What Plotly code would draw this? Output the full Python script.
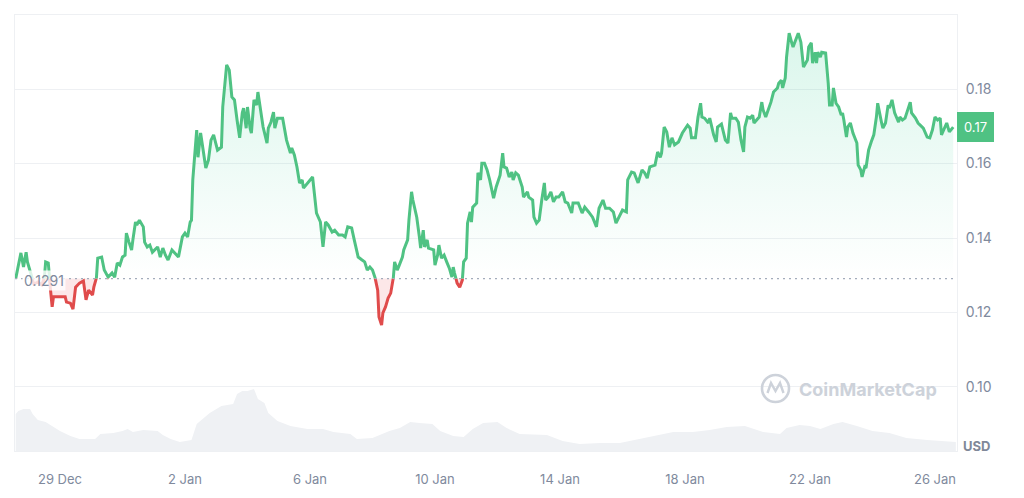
import numpy as np
import pandas as pd
import plotly.graph_objects as go

# ---------------- data ----------------
START = pd.Timestamp("2024-12-27 14:00")

hours = [
    0, 4, 6, 8, 9, 12, 14, 17, 20, 22,
    23, 25, 26, 28, 29, 32, 36, 38, 39, 42,
    44, 46, 49, 52, 54, 56, 59, 60, 62, 63,
    66, 68, 71, 74, 76, 78, 80, 82, 84, 85,
    87, 89, 90, 92, 93, 95, 98, 99, 101, 103,
    105, 109, 111, 113, 115, 117, 120, 122, 125, 128,
    130, 132, 134, 135, 136, 139, 140, 142, 144, 146,
    148, 150, 152, 154, 155, 158, 159, 162, 164, 166,
    168, 170, 172, 174, 175, 177, 178, 180, 181, 183,
    185, 186, 188, 190, 193, 194, 196, 198, 199, 201,
    205, 208, 211, 212, 214, 216, 218, 220, 221, 224,
    228, 231, 234, 236, 238, 240, 243, 245, 248, 251,
    253, 255, 258, 260, 263, 266, 268, 270, 272, 274,
    276, 278, 279, 281, 282, 284, 286, 288, 289, 290,
    291, 293, 294, 297, 298, 301, 302, 304, 305, 307,
    308, 310, 311, 313, 314, 316, 317, 321, 322, 324,
    325, 327, 329, 331, 333, 335, 336, 337, 339, 341,
    343, 344, 346, 347, 349, 350, 351, 354, 355, 357,
    358, 360, 362, 364, 366, 367, 369, 370, 372, 374,
    375, 377, 379, 381, 382, 384, 386, 389, 390, 393,
    394, 397, 398, 400, 402, 404, 406, 407, 409, 411,
    413, 415, 417, 420, 422, 424, 427, 428, 430, 432,
    435, 437, 440, 443, 446, 448, 451, 453, 456, 459,
    461, 463, 466, 469, 470, 473, 475, 478, 481, 483,
    485, 487, 491, 493, 495, 496, 498, 500, 502, 504,
    506, 509, 512, 516, 518, 519, 522, 524, 526, 527,
    529, 532, 533, 536, 538, 539, 542, 545, 547, 549,
    550, 553, 555, 557, 559, 560, 562, 564, 566, 567,
    569, 571, 573, 574, 576, 578, 580, 582, 585, 586,
    588, 589, 591, 592, 594, 596, 597, 599, 601, 603,
    605, 608, 609, 611, 612, 614, 615, 616, 618, 619,
    622, 624, 625, 627, 628, 630, 632, 634, 635, 636,
    638, 639, 641, 643, 646, 647, 649, 650, 652, 653,
    655, 657, 659, 661, 662, 665, 666, 668, 670, 671,
    673, 675, 678, 679, 681, 683, 685, 687, 688, 691,
    693, 695, 697, 700, 702, 704, 706, 708, 710, 711,
    714, 715, 717, 719, 720,
]

prices = [
    .1291, .1360, .1322, .1362, .1336, .1295, .1276, .1282, .1274, .1293,
    .1336, .1333, .1287, .1215, .1242, .1242, .1240, .1242, .1228, .1225,
    .1209, .1268, .1279, .1285, .1234, .1260, .1247, .1268, .1293, .1346,
    .1349, .1314, .1295, .1306, .1295, .1333, .1327, .1349, .1354, .1413,
    .1389, .1368, .1395, .1443, .1435, .1448, .1430, .1389, .1376, .1381,
    .1362, .1376, .1349, .1373, .1354, .1341, .1368, .1360, .1349, .1403,
    .1413, .1403, .1443, .1448, .1556, .1690, .1617, .1682, .1636, .1588,
    .1609, .1663, .1677, .1644, .1636, .1644, .1752, .1865, .1851, .1779,
    .1771, .1717, .1669, .1736, .1749, .1695, .1752, .1695, .1682, .1771,
    .1757, .1792, .1744, .1698, .1655, .1695, .1711, .1738, .1695, .1722,
    .1722, .1663, .1628, .1642, .1623, .1591, .1548, .1556, .1534, .1548,
    .1564, .1467, .1443, .1376, .1443, .1435, .1416, .1421, .1408, .1408,
    .1403, .1430, .1427, .1395, .1349, .1341, .1336, .1314, .1322, .1314,
    .1293, .1260, .1188, .1166, .1199, .1215, .1239, .1252, .1268, .1293,
    .1336, .1314, .1322, .1349, .1368, .1395, .1448, .1524, .1502, .1475,
    .1456, .1403, .1373, .1421, .1376, .1395, .1373, .1368, .1327, .1354,
    .1381, .1346, .1354, .1336, .1319, .1295, .1322, .1306, .1279, .1268,
    .1287, .1336, .1346, .1440, .1470, .1443, .1483, .1494, .1575, .1556,
    .1601, .1601, .1583, .1556, .1521, .1507, .1537, .1550, .1569, .1628,
    .1591, .1588, .1564, .1577, .1556, .1575, .1569, .1537, .1510, .1524,
    .1510, .1502, .1456, .1440, .1448, .1502, .1548, .1502, .1510, .1524,
    .1497, .1510, .1510, .1524, .1497, .1494, .1467, .1494, .1494, .1494,
    .1467, .1483, .1470, .1456, .1430, .1480, .1502, .1480, .1480, .1470,
    .1440, .1456, .1475, .1470, .1556, .1577, .1575, .1548, .1583, .1575,
    .1561, .1591, .1596, .1631, .1617, .1628, .1698, .1685, .1644, .1669,
    .1650, .1658, .1682, .1703, .1695, .1669, .1669, .1725, .1762, .1725,
    .1722, .1709, .1722, .1677, .1658, .1698, .1706, .1663, .1655, .1736,
    .1722, .1722, .1711, .1663, .1631, .1698, .1725, .1722, .1730, .1709,
    .1717, .1725, .1765, .1744, .1725, .1744, .1765, .1792, .1803, .1816,
    .1824, .1803, .1830, .1886, .1950, .1924, .1913, .1932, .1950, .1926,
    .1859, .1878, .1913, .1924, .1870, .1899, .1870, .1899, .1886, .1899,
    .1897, .1816, .1757, .1757, .1803, .1762, .1752, .1730, .1736, .1717,
    .1671, .1698, .1709, .1682, .1655, .1596, .1583, .1564, .1591, .1588,
    .1636, .1658, .1677, .1725, .1762, .1709, .1695, .1709, .1757, .1749,
    .1771, .1736, .1711, .1725, .1717, .1722, .1744, .1765, .1736, .1722,
    .1709, .1703, .1695, .1671, .1669, .1690, .1725, .1717, .1722, .1677,
    .1703, .1709, .1685, .1695, .1698,
]

vol_hours = [
    0, 2, 6, 11, 13, 17, 23, 28, 34, 42,
    49, 61, 65, 75, 82, 86, 90, 98, 109, 113,
    119, 126, 135, 139, 149, 158, 167, 170, 174, 178,
    183, 186, 191, 194, 201, 211, 224, 236, 244, 257,
    262, 274, 287, 295, 303, 310, 320, 326, 336, 344,
    351, 359, 370, 377, 387, 408, 420, 433, 449, 464,
    479, 495, 505, 520, 533, 546, 560, 574, 587, 592,
    602, 610, 618, 628, 635, 646, 658, 671, 684, 700,
    715, 722,
]
volumes = [
    37, 40, 42, 42, 37, 31, 29, 25, 20, 15,
    12, 12, 17, 18, 20, 22, 19, 21, 20, 16,
    12, 9, 11, 27, 38, 45, 47, 57, 60, 60,
    62, 52, 48, 38, 30, 25, 22, 22, 19, 17,
    12, 13, 20, 23, 29, 28, 27, 20, 15, 14,
    22, 28, 29, 23, 17, 16, 10, 7, 8, 8,
    12, 16, 19, 19, 21, 24, 25, 19, 17, 23,
    26, 25, 22, 27, 29, 25, 20, 18, 13, 11,
    10, 9,
]

baseline = 0.1291
tick_dates = ["2024-12-29", "2025-01-02", "2025-01-06", "2025-01-10",
              "2025-01-14", "2025-01-18", "2025-01-22", "2025-01-26"]
tick_labels = ["29 Dec", "2 Jan", "6 Jan", "10 Jan", "14 Jan", "18 Jan", "22 Jan", "26 Jan"]
y_ticks = [0.10, 0.12, 0.14, 0.16, 0.18]
y_tick_labels = ["0.10", "0.12", "0.14", "0.16", "0.18"]

assert len(hours) == len(prices)
assert len(vol_hours) == len(volumes)

# ---------------- styling ----------------
GREEN = "#4FC283"
RED = "#E04B4B"
GRAY = "#808A9D"
GRID = "#EEF0F3"
FONT = "Inter"

W, H = 1024, 498
ML, MR, MT, MB = 15, 67, 15, 47
PW, PH = W - ML - MR, H - MT - MB
YMIN, YMAX = 0.0828, 0.1999
SPLIT = (baseline - YMIN) / (YMAX - YMIN)   # baseline position as domain fraction

t = START + pd.to_timedelta(hours, unit="h")
tv = START + pd.to_timedelta(vol_hours, unit="h")
p = np.array(prices, dtype=float)
n = len(p)

fig = go.Figure()

# volume (secondary axis)
fig.add_trace(go.Scatter(
    x=tv, y=volumes, yaxis="y2", mode="lines",
    line=dict(width=0, color="#EFF1F4"), fill="tozeroy", fillcolor="#EFF1F4",
    hoverinfo="skip", showlegend=False))

# green fill above baseline
fig.add_trace(go.Scatter(x=t, y=[baseline] * n, mode="lines", line=dict(width=0),
                         hoverinfo="skip", showlegend=False))
fig.add_trace(go.Scatter(
    x=t, y=np.maximum(p, baseline), mode="lines", line=dict(width=0),
    fill="tonexty",
    fillgradient=dict(type="vertical", start=baseline, stop=0.20,
                      colorscale=[[0, "rgba(22,199,132,0.0)"], [1, "rgba(22,199,132,0.17)"]]),
    hoverinfo="skip", showlegend=False))

# red fill below baseline
fig.add_trace(go.Scatter(x=t, y=[baseline] * n, mode="lines", line=dict(width=0),
                         hoverinfo="skip", showlegend=False))
fig.add_trace(go.Scatter(
    x=t, y=np.minimum(p, baseline), mode="lines", line=dict(width=0),
    fill="tonexty", fillcolor="rgba(234,57,67,0.12)",
    hoverinfo="skip", showlegend=False))

# price line: red part on a subplot clipped below the baseline,
# green part on a subplot clipped above the baseline
fig.add_trace(go.Scatter(x=t, y=p, yaxis="y3", mode="lines",
                         line=dict(color=RED, width=3), showlegend=False))
fig.add_trace(go.Scatter(x=t, y=p, yaxis="y4", mode="lines",
                         line=dict(color=GREEN, width=3), showlegend=False))


def px2paper(x, y):
    return (x - ML) / PW, (H - MB - y) / PH


# baseline dotted line
shapes = [dict(type="line", xref="paper", x0=0, x1=1, yref="y", y0=baseline, y1=baseline,
               line=dict(color="#A3ACBB", width=1.4, dash="2px,4px"), layer="above")]

# watermark logo
cx0, cy0 = px2paper(762, 402)
cx1, cy1 = px2paper(789, 375)
shapes.append(dict(type="circle", xref="paper", yref="paper", x0=cx0, y0=cy0, x1=cx1, y1=cy1,
                   line=dict(color="#CDD2DA", width=2.6), layer="above"))
pts = [px2paper(*q) for q in [(767.5, 393), (771, 383), (775.5, 391), (780, 383), (783.5, 393)]]
path = "M " + " L ".join(f"{a:.5f},{b:.5f}" for a, b in pts)
shapes.append(dict(type="path", xref="paper", yref="paper", path=path,
                   line=dict(color="#CDD2DA", width=2.4), layer="above"))

wx, wy = px2paper(797, 389)
annotations = [
    dict(x=0, xref="paper", y=baseline, yref="y", text="0.1291", showarrow=False,
         xanchor="left", yanchor="middle", xshift=7, yshift=-2,
         font=dict(family=FONT, size=14, color=GRAY),
         bgcolor="rgba(255,255,255,0.8)", borderpad=1),
    dict(x=1, xref="paper", y=p[-1], yref="y", text=f"{p[-1]:.2f}", showarrow=False,
         xanchor="left", yanchor="middle", xshift=0,
         font=dict(family=FONT, size=13, color="white"),
         bgcolor=GREEN, bordercolor=GREEN, borderwidth=1, borderpad=6),
    dict(x=1, xref="paper", y=px2paper(0, 446)[1], yref="paper", text="<b>USD</b>",
         showarrow=False, xanchor="left", yanchor="middle", xshift=4,
         font=dict(family=FONT, size=13, color="#7F8899")),
    dict(x=wx, xref="paper", y=wy, yref="paper", text="<b>CoinMarketCap</b>",
         showarrow=False, xanchor="left", yanchor="middle",
         font=dict(family=FONT, size=18, color="#CDD2DA")),
]

x0 = START - pd.Timedelta(hours=0.54)
x1 = START + pd.Timedelta(hours=722.9)

fig.update_layout(
    width=W, height=H,
    margin=dict(l=ML, r=MR, t=MT, b=MB, pad=0),
    paper_bgcolor="white", plot_bgcolor="rgba(0,0,0,0)",
    font=dict(family=FONT, size=13, color=GRAY),
    showlegend=False,
    hovermode=False,
    shapes=shapes,
    annotations=annotations,
    xaxis=dict(
        type="date", range=[x0, x1],
        tickvals=tick_dates, ticktext=tick_labels,
        showgrid=False, zeroline=False,
        showline=True, mirror=True, linecolor=GRID, linewidth=1,
        ticks="", ticklabelstandoff=16,
        tickfont=dict(family=FONT, size=13, color=GRAY),
        fixedrange=True,
    ),
    yaxis=dict(
        range=[YMIN, YMAX], side="right",
        tickvals=y_ticks, ticktext=y_tick_labels,
        showgrid=True, gridcolor=GRID, gridwidth=1, zeroline=False,
        showline=True, mirror=True, linecolor=GRID, linewidth=1,
        ticks="", ticklabelstandoff=5,
        tickfont=dict(family=FONT, size=14, color=GRAY),
        fixedrange=True,
    ),
    yaxis2=dict(overlaying="y", range=[0, PH], visible=False, fixedrange=True),
    yaxis3=dict(anchor="x", domain=[0, SPLIT], range=[YMIN, baseline],
                visible=False, showgrid=False, zeroline=False, fixedrange=True),
    yaxis4=dict(anchor="x", domain=[SPLIT, 1], range=[baseline, YMAX],
                visible=False, showgrid=False, zeroline=False, fixedrange=True),
)

fig.write_html("out.html")
